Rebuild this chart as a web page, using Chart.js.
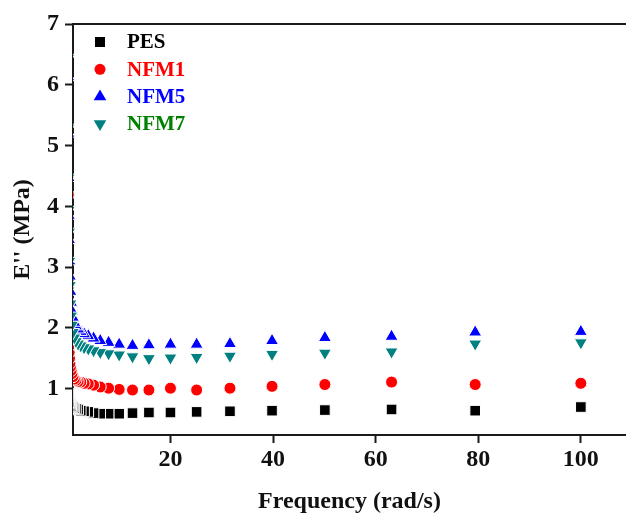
<!DOCTYPE html>
<html>
<head>
<meta charset="utf-8">
<script src="https://cdn.jsdelivr.net/npm/chart.js@4/dist/chart.umd.min.js"></script>
<style>
  html, body { margin: 0; padding: 0; background: #fff; }
  #wrap { width: 626px; height: 519px; }
</style>
</head>
<body>
<div id="wrap"><canvas id="lossChart" width="626" height="519"></canvas></div>
<script>
// Frequency sweep, rad/s (10 points per decade)
const FREQ = [0.1, 0.126, 0.158, 0.2, 0.251, 0.316, 0.398, 0.501, 0.631, 0.794,
  1, 1.26, 1.58, 2, 2.51, 3.16, 3.98, 5.01, 6.31, 7.94,
  10, 12.6, 15.8, 20, 25.1, 31.6, 39.8, 50.1, 63.1, 79.4, 100];

// E'' (MPa) for each sample
const PES = [0.92, 0.88, 0.85, 0.82, 0.80, 0.78, 0.76, 0.74, 0.72, 0.71,
  0.70, 0.68, 0.67, 0.66, 0.64, 0.63, 0.62, 0.60, 0.59, 0.59,
  0.59, 0.60, 0.61, 0.61, 0.62, 0.63, 0.64, 0.65, 0.66, 0.64, 0.70];
const NFM1 = [4.19, 2.00, 1.85, 1.70, 1.60, 1.50, 1.42, 1.36, 1.30, 1.25,
  1.20, 1.16, 1.14, 1.12, 1.11, 1.09, 1.08, 1.06, 1.03, 1.01,
  0.99, 0.98, 0.98, 1.01, 0.98, 1.01, 1.04, 1.07, 1.11, 1.07, 1.09];
const NFM5 = [6.13, 5.20, 4.47, 3.85, 3.45, 3.10, 2.85, 2.60, 2.42, 2.28,
  2.17, 2.09, 2.03, 1.98, 1.94, 1.90, 1.87, 1.83, 1.79, 1.76,
  1.73, 1.71, 1.72, 1.73, 1.73, 1.74, 1.79, 1.84, 1.86, 1.93, 1.94];
const NFM7 = [6.44, 5.29, 4.47, 3.94, 3.58, 3.10, 2.70, 2.40, 2.20, 2.05,
  1.93, 1.84, 1.78, 1.74, 1.71, 1.68, 1.66, 1.63, 1.60, 1.58,
  1.56, 1.53, 1.50, 1.51, 1.52, 1.54, 1.57, 1.59, 1.61, 1.74, 1.76];

const X_TICKS = [20, 40, 60, 80, 100];
const Y_TICKS = [1, 2, 3, 4, 5, 6, 7];

const SERIES = [
  { label: 'PES',  values: PES,  color: '#000000', text: '#000000', style: 'rect',     rot: 0,   r: 7.5 },
  { label: 'NFM1', values: NFM1, color: '#ff0000', text: '#ff0000', style: 'circle',   rot: 0,   r: 6 },
  { label: 'NFM5', values: NFM5, color: '#0000ff', text: '#0000ff', style: 'triangle', rot: 0,   r: 7.5 },
  { label: 'NFM7', values: NFM7, color: '#008080', text: '#008000', style: 'triangle', rot: 180, r: 7.5 }
];

const FONT = "'Liberation Serif', 'Times New Roman', serif";
const AXIS = '#1a1a1a';

// legend drawn inside the plot, top-left, like the original figure
const insideLegend = {
  id: 'insideLegend',
  afterDraw(chart) {
    const ctx = chart.ctx;
    const area = chart.chartArea;
    ctx.save();
    // top frame line
    ctx.strokeStyle = AXIS;
    ctx.lineWidth = 2;
    ctx.beginPath();
    ctx.moveTo(area.left - 1, area.top);
    ctx.lineTo(chart.width, area.top);
    ctx.stroke();

    ctx.font = 'bold 21px ' + FONT;
    ctx.textBaseline = 'middle';
    SERIES.forEach((s, i) => {
      const y = 42 + i * 27.3;
      const x = 100;
      ctx.fillStyle = s.color;
      ctx.beginPath();
      if (s.style === 'rect') {
        ctx.rect(x - 5, y - 5, 10, 10);
      } else if (s.style === 'circle') {
        ctx.arc(x, y, 5.5, 0, Math.PI * 2);
      } else {
        const dir = s.rot ? 1 : -1;
        ctx.moveTo(x, y + dir * 7);
        ctx.lineTo(x + 6.3, y - dir * 3.6);
        ctx.lineTo(x - 6.3, y - dir * 3.6);
        ctx.closePath();
      }
      ctx.fill();
      ctx.fillStyle = s.text;
      ctx.fillText(s.label, 127, y + 1);
    });
    ctx.restore();
  }
};

new Chart(document.getElementById('lossChart'), {
  type: 'scatter',
  data: {
    datasets: SERIES.map((s, i) => ({
      label: s.label,
      // high to low frequency, so the points left of the axis are still drawn (and clipped)
      data: FREQ.map((f, k) => ({ x: f, y: s.values[k] })).reverse(),
      pointStyle: s.style,
      rotation: s.rot,
      pointRadius: s.r,
      pointBackgroundColor: s.color,
      pointBorderColor: '#ffffff',
      pointBorderWidth: 1,
      showLine: false,
      clip: 0,
      order: 4 - i
    }))
  },
  options: {
    responsive: false,
    animation: false,
    layout: { autoPadding: false, padding: { top: 24, right: 0, left: 0, bottom: 0 } },
    plugins: {
      legend: { display: false },
      tooltip: { enabled: false }
    },
    scales: {
      x: {
        type: 'linear',
        min: 1,
        max: 108.8,
        afterBuildTicks: (scale) => { scale.ticks = X_TICKS.map(v => ({ value: v })); },
        afterFit: (scale) => { scale.height = 84; },
        border: { display: true, color: AXIS, width: 2 },
        grid: { display: true, drawOnChartArea: false, drawTicks: true, tickLength: 8, tickColor: AXIS, tickWidth: 2 },
        ticks: { color: '#111', padding: 2, font: { family: FONT, size: 24, weight: 'bold' } },
        title: {
          display: true,
          text: 'Frequency (rad/s)',
          color: '#111',
          padding: { top: 0, bottom: 3 },
          font: { family: FONT, size: 24, weight: 'bold' }
        }
      },
      y: {
        type: 'linear',
        min: 0.24,
        max: 7,
        afterBuildTicks: (scale) => { scale.ticks = Y_TICKS.map(v => ({ value: v })); },
        afterFit: (scale) => { scale.width = 73; },
        border: { display: true, color: AXIS, width: 2 },
        grid: { display: true, drawOnChartArea: false, drawTicks: true, tickLength: 8, tickColor: AXIS, tickWidth: 2 },
        ticks: { color: '#111', padding: 6, font: { family: FONT, size: 24, weight: 'bold' } },
        title: {
          display: true,
          text: "E'' (MPa)",
          color: '#111',
          padding: { top: 8, bottom: 0 },
          font: { family: FONT, size: 24, weight: 'bold' }
        }
      }
    }
  },
  plugins: [insideLegend]
});
</script>
</body>
</html>
